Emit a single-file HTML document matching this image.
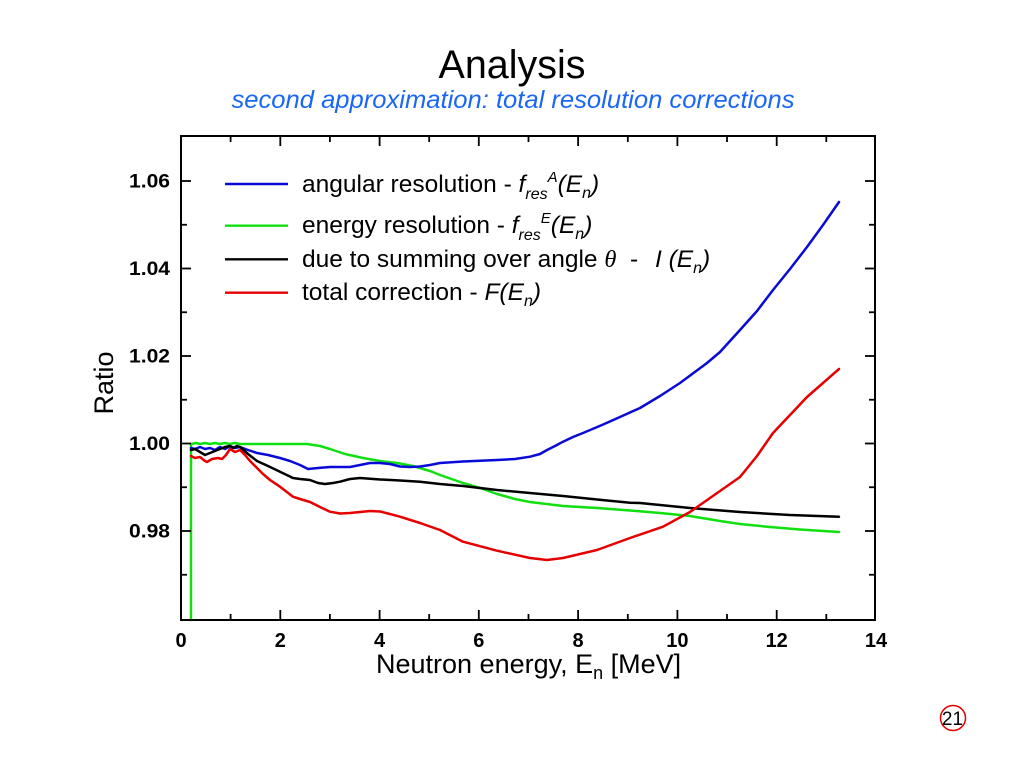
<!DOCTYPE html>
<html>
<head>
<meta charset="utf-8">
<style>
html,body{margin:0;padding:0;background:#fff;}
svg{display:block;}
text{font-family:"Liberation Sans",Arial,sans-serif;}
</style>
</head>
<body>
<svg width="1024" height="768" viewBox="0 0 1024 768" xmlns="http://www.w3.org/2000/svg">
<rect x="0" y="0" width="1024" height="768" fill="#fff"/>

<!-- Titles -->
<text x="512" y="78" text-anchor="middle" font-size="40" fill="#000" textLength="147" lengthAdjust="spacingAndGlyphs">Analysis</text>
<text x="513" y="108" text-anchor="middle" font-size="25" font-style="italic" fill="#1a66f5" textLength="563" lengthAdjust="spacingAndGlyphs">second approximation: total resolution corrections</text>

<!-- Curves -->
<g id="curves" fill="none" stroke-width="2.5" stroke-linejoin="round" stroke-linecap="round">
<polyline class="sm" stroke="#10e010" points="191,620 191,444 196,443 200,444 205,443 210,444 215,443 220,444 225,443 230,444 235,443 240,444 250,444 270,444 290,444 307,444 320,446 330,449 345,454 363,458 380,461 397,463 413,466 430,471 440,475 463,483 480,488 497,494 515,499 530,502 563,506 597,508 630,510.5 660,513 690,516 720,521 740,524 770,527 800,529.5 839,532"/>
<polyline class="sm" stroke="#0a0ad8" points="191,448 195,449 200,447 205,449 210,448 215,450 220,447 225,449 230,446 235,448 240,447 248,450 257,453 268,455 280,458 290,461 300,465 308,469 318,468 330,467 340,467 350,467 360,465 370,463 380,463 390,464 400,466.5 410,467 420,466.5 430,465 440,463 463,461.5 497,460 515,459 530,456.7 540,454 547,450 555,446 563,441.7 573,437 583,433 602,425 620,417 640,408 660,396 680,383 707,363 720,352 740,330 757,311 773,290 790,269 807,247 823,225 839,202"/>
<polyline class="sm" stroke="#000" points="191,450 195,449 200,452 205,455 210,453 215,451 220,449 225,447 230,446 233,448 237,446 240,447 248,454 257,461 268,466 280,471.7 293,478 300,479 310,480 318,483 325,484 333,483 340,481.7 350,479 360,478 380,479.5 400,480.5 420,481.7 440,484 463,486 497,490 530,493 563,496 597,499.5 630,502.7 640,503 690,508 740,512 790,515 839,516.7"/>
<polyline class="sm" stroke="#e60000" points="191,456 195,458 200,457 205,461 207,462 212,459 218,458 222,459 226,455 230,449 235,452 240,450 245,455 250,461 257,468 263,474 270,480 280,486.7 293,496.7 300,499 310,502 320,507 330,511.7 340,513.5 350,513 360,512 370,511 380,511.5 390,514 400,516.7 420,523 440,530 463,541.7 497,550.7 530,558 547,560 563,558 597,550 630,538 663,526.7 690,512 695,508.5 720,491 740,477 757,456 773,433 790,415 807,397 823,383 839,369"/>
</g>

<!-- Frame -->
<rect x="181" y="136" width="694" height="484" fill="none" stroke="#000" stroke-width="2"/>

<!-- Ticks -->
<g stroke="#000" stroke-width="1.8">
<line x1="181" y1="181" x2="191" y2="181"/><line x1="875" y1="181" x2="865" y2="181"/>
<line x1="181" y1="268.5" x2="191" y2="268.5"/><line x1="875" y1="268.5" x2="865" y2="268.5"/>
<line x1="181" y1="356" x2="191" y2="356"/><line x1="875" y1="356" x2="865" y2="356"/>
<line x1="181" y1="443.5" x2="191" y2="443.5"/><line x1="875" y1="443.5" x2="865" y2="443.5"/>
<line x1="181" y1="531" x2="191" y2="531"/><line x1="875" y1="531" x2="865" y2="531"/>
<line x1="181" y1="224.75" x2="187" y2="224.75"/><line x1="875" y1="224.75" x2="869" y2="224.75"/>
<line x1="181" y1="312.25" x2="187" y2="312.25"/><line x1="875" y1="312.25" x2="869" y2="312.25"/>
<line x1="181" y1="399.75" x2="187" y2="399.75"/><line x1="875" y1="399.75" x2="869" y2="399.75"/>
<line x1="181" y1="487.25" x2="187" y2="487.25"/><line x1="875" y1="487.25" x2="869" y2="487.25"/>
<line x1="181" y1="574.75" x2="187" y2="574.75"/><line x1="875" y1="574.75" x2="869" y2="574.75"/>
<line x1="280.3" y1="620" x2="280.3" y2="610"/><line x1="280.3" y1="136" x2="280.3" y2="146"/>
<line x1="379.6" y1="620" x2="379.6" y2="610"/><line x1="379.6" y1="136" x2="379.6" y2="146"/>
<line x1="478.8" y1="620" x2="478.8" y2="610"/><line x1="478.8" y1="136" x2="478.8" y2="146"/>
<line x1="578.1" y1="620" x2="578.1" y2="610"/><line x1="578.1" y1="136" x2="578.1" y2="146"/>
<line x1="677.4" y1="620" x2="677.4" y2="610"/><line x1="677.4" y1="136" x2="677.4" y2="146"/>
<line x1="776.7" y1="620" x2="776.7" y2="610"/><line x1="776.7" y1="136" x2="776.7" y2="146"/>
<line x1="230.6" y1="620" x2="230.6" y2="614"/><line x1="230.6" y1="136" x2="230.6" y2="142"/>
<line x1="329.9" y1="620" x2="329.9" y2="614"/><line x1="329.9" y1="136" x2="329.9" y2="142"/>
<line x1="429.2" y1="620" x2="429.2" y2="614"/><line x1="429.2" y1="136" x2="429.2" y2="142"/>
<line x1="528.5" y1="620" x2="528.5" y2="614"/><line x1="528.5" y1="136" x2="528.5" y2="142"/>
<line x1="627.8" y1="620" x2="627.8" y2="614"/><line x1="627.8" y1="136" x2="627.8" y2="142"/>
<line x1="727.0" y1="620" x2="727.0" y2="614"/><line x1="727.0" y1="136" x2="727.0" y2="142"/>
<line x1="826.3" y1="620" x2="826.3" y2="614"/><line x1="826.3" y1="136" x2="826.3" y2="142"/>
</g>

<!-- Y tick labels -->
<g font-size="19" font-weight="bold" text-anchor="end" fill="#000">
<text x="170" y="187.5" textLength="41" lengthAdjust="spacingAndGlyphs">1.06</text>
<text x="170" y="275" textLength="41" lengthAdjust="spacingAndGlyphs">1.04</text>
<text x="170" y="362.5" textLength="41" lengthAdjust="spacingAndGlyphs">1.02</text>
<text x="170" y="450" textLength="41" lengthAdjust="spacingAndGlyphs">1.00</text>
<text x="170" y="537.5" textLength="41" lengthAdjust="spacingAndGlyphs">0.98</text>
</g>

<!-- X tick labels -->
<g font-size="20" font-weight="bold" text-anchor="middle" fill="#000">
<text x="181" y="647">0</text>
<text x="280.3" y="647">2</text>
<text x="379.6" y="647">4</text>
<text x="478.8" y="647">6</text>
<text x="578.1" y="647">8</text>
<text x="677.4" y="647">10</text>
<text x="776.7" y="647">12</text>
<text x="876" y="647">14</text>
</g>

<!-- Axis titles -->
<text x="376" y="673" font-size="27" fill="#000">Neutron energy, E<tspan font-size="18" dy="6">n</tspan><tspan dy="-6"> [MeV]</tspan></text>
<text transform="translate(113,383) rotate(-90)" text-anchor="middle" font-size="27" fill="#000">Ratio</text>

<!-- Legend -->
<g stroke-width="2.4">
<line x1="225" y1="184" x2="288" y2="184" stroke="#0a0ad8"/>
<line x1="225" y1="225.7" x2="288" y2="225.7" stroke="#10e010"/>
<line x1="225" y1="259.3" x2="288" y2="259.3" stroke="#000"/>
<line x1="225" y1="292.7" x2="288" y2="292.7" stroke="#e60000"/>
</g>
<g font-size="24.5" fill="#000">
<text x="302" y="192">angular resolution - <tspan font-style="italic">f</tspan><tspan font-style="italic" font-size="16" dy="7">res</tspan><tspan font-style="italic" font-size="15" dy="-17">A</tspan><tspan font-style="italic" dy="10">(E</tspan><tspan font-style="italic" font-size="16" dy="6">n</tspan><tspan font-style="italic" dy="-6">)</tspan></text>
<text x="302" y="233">energy resolution - <tspan font-style="italic">f</tspan><tspan font-style="italic" font-size="16" dy="7">res</tspan><tspan font-style="italic" font-size="15" dy="-17">E</tspan><tspan font-style="italic" dy="10">(E</tspan><tspan font-style="italic" font-size="16" dy="6">n</tspan><tspan font-style="italic" dy="-6">)</tspan></text>
<text x="302" y="267">due to summing over angle <tspan font-family="Liberation Serif, serif" font-style="italic">θ</tspan><tspan x="630">-</tspan><tspan x="655" font-style="italic">I (E</tspan><tspan font-style="italic" font-size="16" dy="6">n</tspan><tspan font-style="italic" dy="-6">)</tspan></text>
<text x="302" y="300">total correction - <tspan font-style="italic">F(E</tspan><tspan font-style="italic" font-size="16" dy="6">n</tspan><tspan font-style="italic" dy="-6">)</tspan></text>
</g>

<!-- Page number -->
<circle cx="953" cy="718" r="12.5" fill="none" stroke="#e60000" stroke-width="1.5"/>
<text x="952.5" y="725" text-anchor="middle" font-size="19" fill="#000">21</text>

<script>
(function(){
  var NS="http://www.w3.org/2000/svg";
  var pls=document.querySelectorAll("polyline.sm");
  for(var k=0;k<pls.length;k++){
    var pl=pls[k];
    var raw=pl.getAttribute("points").trim().split(/\s+/);
    var p=raw.map(function(s){var a=s.split(",");return [parseFloat(a[0]),parseFloat(a[1])];});
    var d="M"+p[0][0]+","+p[0][1];
    for(var i=0;i<p.length-1;i++){
      var p0=p[i>0?i-1:i],p1=p[i],p2=p[i+1],p3=p[i+2<p.length?i+2:i+1];
      var t=0.5/3;
      if(p1[0]===p2[0]){d+=" L"+p2[0]+","+p2[1];continue;}
      if(p0[0]===p1[0]) p0=p1;
      var c1x=p1[0]+(p2[0]-p0[0])*t, c1y=p1[1]+(p2[1]-p0[1])*t;
      var c2x=p2[0]-(p3[0]-p1[0])*t, c2y=p2[1]-(p3[1]-p1[1])*t;
      d+=" C"+c1x.toFixed(2)+","+c1y.toFixed(2)+" "+c2x.toFixed(2)+","+c2y.toFixed(2)+" "+p2[0]+","+p2[1];
    }
    var path=document.createElementNS(NS,"path");
    path.setAttribute("d",d);
    path.setAttribute("stroke",pl.getAttribute("stroke"));
    pl.parentNode.replaceChild(path,pl);
  }
})();
</script>
</svg>
</body>
</html>
